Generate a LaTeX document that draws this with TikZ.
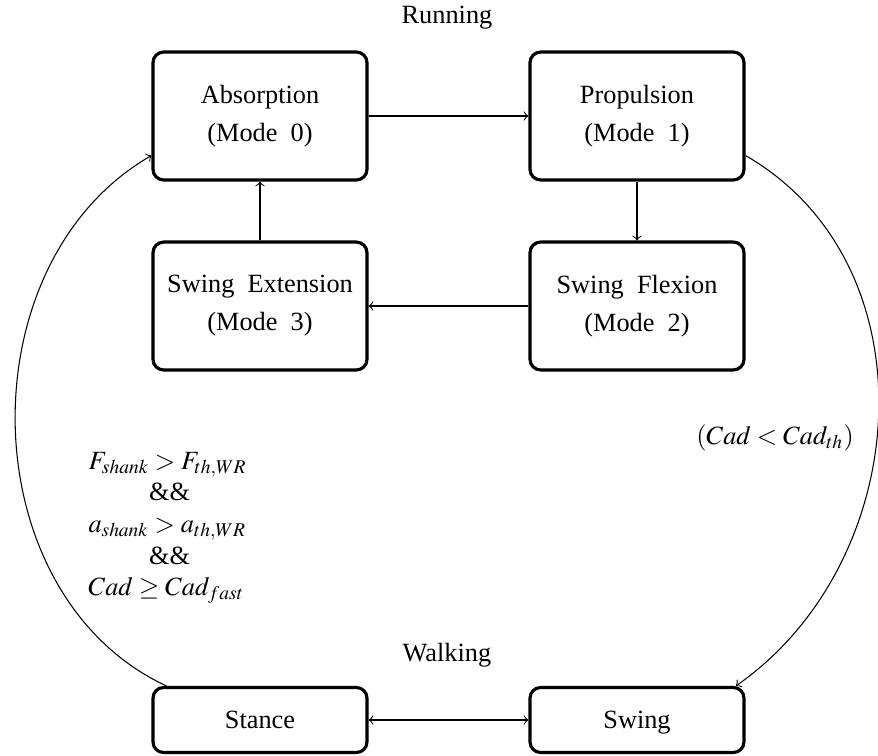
\documentclass[tikz,border=0pt]{standalone}
\usepackage{mathptmx}
\usepackage{fontspec}
\setmainfont{Liberation Serif}

\begin{document}
\begin{tikzpicture}[x=0.38pt,y=-0.38pt,
    mode/.style={draw,very thick,rounded corners,align=center,minimum width=81.3pt,minimum height=48.6pt,inner sep=2pt},
    gait/.style={draw,very thick,rounded corners,minimum width=81.3pt,minimum height=24.7pt,inner sep=2pt,text height=1.6ex,text depth=.25ex}]
        \useasboundingbox (0,0) rectangle (878,756);

        % Running modes
        \node[mode] (absorption) at (260,116) {Absorption\\[2.5pt](Mode~~0)};
        \node[mode] (propulsion) at (637,116) {Propulsion\\[2.5pt](Mode~~1)};
        \node[mode] (flexion) at (637,306) {Swing~~Flexion\\[2.5pt](Mode~~2)};
        \node[mode] (extension) at (260,306) {Swing~~Extension\\[2.5pt](Mode~~3)};
        % Walking modes
        \node[gait] (stance) at (260,720) {Stance};
        \node[gait] (swing) at (637,720) {Swing};

        % Text Node
        \node (running) at (447,18) {Running};
        % Text Node
        \node (walking) at (447,655) {Walking};
        % Text Node
        \node[anchor=west,align=left,inner sep=0pt] (wr) at (88,528) {$F_{shank} > F_{th,WR}$\\
            \hspace{23pt}\&\&\\
            $a_{shank} > a_{th,WR}$\\
            \hspace{23pt}\&\&\\
            $Cad \geq Cad_{fast}$};
        % Text Node
        \node (rw) at (775,438) {$(Cad < Cad_{th})$};

        % Transitions
        \draw[->] (absorption) -- (propulsion);
        \draw[->] (propulsion) -- (flexion);
        \draw[->] (flexion) -- (extension);
        \draw[->] (extension) -- (absorption);
        \draw[<->] (stance) -- (swing);
        \draw[->] (propulsion.-20) to[out=-30,in=35,looseness=1.05] (swing.19);
        \draw[->] (stance.160) to[out=155,in=210,looseness=1.04] (absorption.200);

    \end{tikzpicture}
\end{document}
